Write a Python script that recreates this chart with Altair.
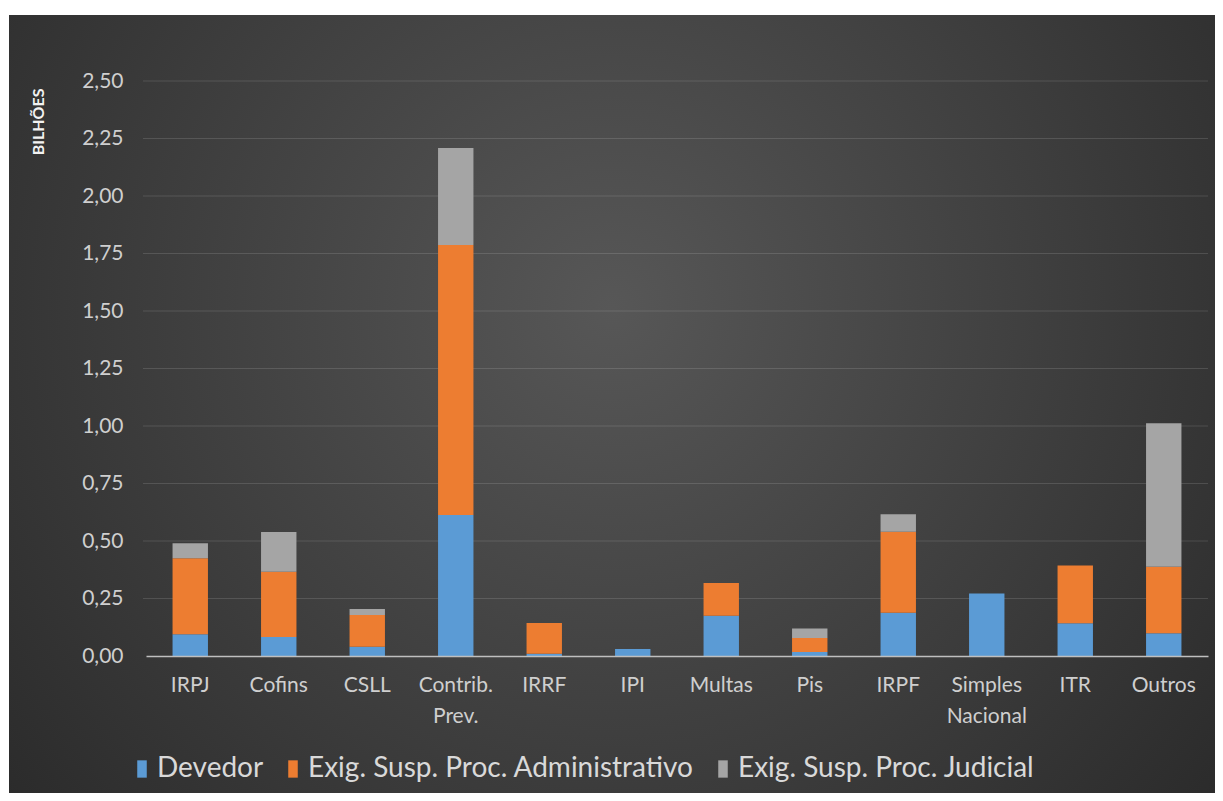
import altair as alt
import pandas as pd

categories = ["IRPJ", "Cofins", "CSLL", "Contrib. Prev.", "IRRF", "IPI", "Multas",
              "Pis", "IRPF", "Simples Nacional", "ITR", "Outros"]
devedor = [0.095, 0.083, 0.040, 0.613, 0.010, 0.030, 0.175, 0.017, 0.188, 0.272, 0.142, 0.099]
administrativo = [0.330, 0.283, 0.138, 1.174, 0.133, 0.0, 0.142, 0.061, 0.352, 0.0, 0.251, 0.289]
judicial = [0.065, 0.173, 0.026, 0.422, 0.0, 0.0, 0.0, 0.042, 0.076, 0.0, 0.0, 0.624]
series = ["Devedor", "Exig. Susp. Proc. Administrativo", "Exig. Susp. Proc. Judicial"]
colors = ["#5b9bd5", "#ed7d31", "#a5a5a5"]
y_ticks = [0.25, 0.5, 0.75, 1.0, 1.25, 1.5, 1.75, 2.0, 2.25, 2.5]

rows = []
for s_i, (name, vals) in enumerate(zip(series, [devedor, administrativo, judicial])):
    for c, v in zip(categories, vals):
        rows.append({"cat": c, "serie": name, "valor": v, "ord": s_i})
df = pd.DataFrame(rows)

W, H = 1062, 575
FONT = "Lato"

bg = alt.Chart(pd.DataFrame({"a": [0]})).mark_rect(
    fill={"gradient": "radial", "x1": 0.5, "y1": 0.42, "r1": 0, "x2": 0.5, "y2": 0.42, "r2": 0.72,
          "stops": [{"offset": 0, "color": "#575757"}, {"offset": 1, "color": "#262626"}]}
).encode(x=alt.value(-137), x2=alt.value(W + 7), y=alt.value(-66), y2=alt.value(H + 137))

grid = alt.Chart(pd.DataFrame({"t": y_ticks})).mark_rule(
    color="#ffffff", opacity=0.13, strokeWidth=1
).encode(
    y=alt.Y("t:Q", scale=alt.Scale(domain=[0, 2.5], nice=False)),
    x=alt.value(-3), x2=alt.value(W),
)

bars = alt.Chart(df).mark_bar().encode(
    x=alt.X("cat:N", sort=categories,
            scale=alt.Scale(paddingInner=0.6, paddingOuter=0.3),
            axis=alt.Axis(title=None, labelAngle=0, labelFontSize=21, labelColor="#cfcfcf",
                          labelFont=FONT, labelPadding=18, labelLineHeight=31, ticks=False,
                          domainColor="#bfbfbf", domainWidth=1.5, zindex=1,
                          labelExpr="split(datum.label, ' ')")),
    y=alt.Y("valor:Q", stack="zero",
            scale=alt.Scale(domain=[0, 2.5], nice=False),
            axis=alt.Axis(title="BILHÕES", values=[0] + y_ticks, grid=False, ticks=False, domain=False,
                          labelFontSize=21, labelColor="#cfcfcf", labelFont=FONT, labelPadding=23,
                          labelExpr="replace(format(datum.value, '.2f'), '.', ',')",
                          titleFontSize=16, titleFont=FONT, titleFontWeight="bold", titleColor="#f2f2f2",
                          titleAngle=-90, titleX=-108, titleY=7, titleAlign="right",
                          titleBaseline="middle", zindex=1)),
    color=alt.Color("serie:N", scale=alt.Scale(domain=series, range=colors),
                    legend=alt.Legend(title=None, orient="none", direction="horizontal",
                                      legendX=-18, legendY=674,
                                      symbolType="M-0.55,-1H0.55V1H-0.55Z", symbolSize=300,
                                      symbolStrokeWidth=0, labelFontSize=28, labelFont=FONT,
                                      labelColor="#d9d9d9", labelOffset=1, columnPadding=15,
                                      labelLimit=0, zindex=1)),
    order=alt.Order("ord:Q"),
)

chart = alt.layer(bg, grid, bars).properties(
    width=W, height=H, autosize="none",
    padding={"left": 138, "top": 73, "right": 7, "bottom": 137},
).configure(background="white").configure_view(stroke=None)

chart.save("out.html", embed_options={"renderer": "svg", "actions": False})
